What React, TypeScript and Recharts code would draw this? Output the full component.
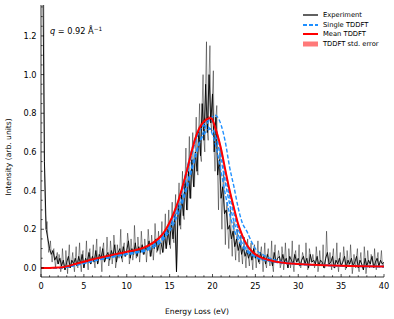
import React from 'react';
import { ComposedChart, Line, Area, XAxis, YAxis } from 'recharts';

// ---------- data ----------
const EXP_STEP = 0.2;
// Experiment, samples at 0.0, 0.2, ... 40.0 eV
const expEven = [
  1.6, 1.6, 0.55, 0.2, 0.15, 0.1, 0.07, 0.09, 0.04, 0.06,
  0.02, 0.05, 0.01, 0.04, -0.01, 0.03, 0.06, 0.0, 0.04, 0.02,
  0.05, 0.01, 0.06, 0.02, 0.07, 0.0, 0.05, 0.03, 0.08, 0.02,
  0.06, 0.03, 0.09, 0.02, 0.07, 0.05, 0.1, 0.03, 0.06, 0.08,
  0.04, 0.09, 0.06, 0.12, 0.03, 0.08, 0.1, 0.05, 0.11, 0.06,
  0.09, 0.14, 0.05, 0.1, 0.07, 0.13, 0.06, 0.11, 0.08, 0.12,
  0.07, 0.11, 0.09, 0.14, 0.06, 0.12, 0.1, 0.15, 0.09, 0.13,
  0.13, 0.08, 0.18, 0.1, 0.2, 0.12, 0.24, 0.15, 0.28, -0.02,
  0.33, 0.22, 0.38, 0.27, 0.45, 0.3, 0.5, 0.36, 0.56, 0.42,
  0.6, 0.5, 0.72, 0.58, 0.85, 0.66, 0.95, 0.7, 1.0, 0.75,
  0.9, 0.6, 0.78, 0.48, 0.56, 0.36, 0.42, 0.28, 0.3, 0.2,
  0.22, 0.15, 0.19, 0.11, 0.15, 0.09, 0.13, 0.07, 0.11, 0.06,
  0.09, 0.05, 0.08, 0.04, 0.1, 0.05, 0.07, 0.03, 0.08, 0.04,
  0.06, 0.02, 0.07, 0.04, 0.05, 0.01, 0.08, 0.03, 0.05, 0.06,
  0.02, 0.07, 0.03, 0.05, 0.0, 0.06, 0.04, 0.02, 0.07, 0.03,
  0.05, 0.01, 0.04, 0.06, 0.02, 0.05, 0.0, 0.07, 0.03, 0.04,
  0.02, 0.06, 0.01, 0.04, 0.03, 0.0, 0.05, 0.08, 0.02, 0.03,
  0.06, 0.0, 0.04, 0.02, 0.05, 0.01, 0.03, 0.06, 0.0, 0.04,
  0.02, 0.05, 0.01, 0.03, 0.06, 0.0, 0.04, 0.02, -0.01, 0.05,
  0.01, 0.04, 0.02, 0.06, 0.0, 0.03, 0.05, 0.01, 0.04, 0.02,
  0.03,
];
// Experiment, interleaved samples at 0.1, 0.3, ... 39.9 eV
const expOdd = [
  1.6, 1.6, 0.3, 0.24, 0.08, 0.14, 0.03, 0.1, 0.0, 0.08,
  0.07, -0.02, 0.1, 0.0, 0.09, -0.03, 0.12, 0.01, 0.08, -0.02,
  0.11, 0.0, 0.13, -0.02, 0.09, 0.02, 0.14, -0.01, 0.1, 0.04,
  0.12, 0.0, 0.15, 0.03, 0.11, -0.02, 0.13, 0.04, 0.16, 0.01,
  0.14, 0.02, 0.17, 0.0, 0.12, 0.05, 0.2, 0.03, 0.13, 0.06,
  0.18, 0.02, 0.15, 0.04, 0.22, 0.05, 0.16, 0.03, 0.19, 0.07,
  0.15, 0.03, 0.2, 0.06, 0.17, 0.04, 0.23, 0.08, 0.19, 0.07,
  0.24, 0.09, 0.28, 0.12, 0.3, 0.1, 0.34, 0.13, 0.38, 0.15,
  0.44, 0.2, 0.5, 0.25, 0.62, 0.3, 0.68, 0.36, 0.7, 0.42,
  0.78, 0.48, 0.85, 0.55, 1.0, 0.6, 1.17, 0.66, 1.15, 0.7,
  1.02, 0.5, 0.84, 0.3, 0.62, 0.2, 0.5, 0.12, 0.34, 0.1,
  0.3, 0.06, 0.24, 0.04, 0.2, 0.03, 0.17, 0.02, 0.16, 0.0,
  0.15, 0.01, 0.13, -0.01, 0.12, 0.0, 0.14, 0.02, 0.11, -0.02,
  0.13, 0.0, 0.1, 0.01, 0.14, -0.02, 0.12, 0.03, 0.09, 0.0,
  0.11, -0.01, 0.13, 0.02, 0.1, 0.0, 0.14, -0.02, 0.09, 0.03,
  0.12, 0.0, 0.08, 0.02, 0.13, -0.01, 0.1, 0.03, 0.07, 0.0,
  0.11, -0.02, 0.09, 0.01, 0.12, 0.0, 0.19, 0.02, 0.08, -0.01,
  0.1, 0.0, 0.13, -0.02, 0.08, 0.02, 0.11, -0.01, 0.09, 0.01,
  0.12, -0.03, 0.07, 0.0, 0.1, -0.02, 0.08, 0.01, 0.11, -0.03,
  0.09, 0.0, 0.07, 0.03, 0.1, -0.01, 0.08, 0.02, 0.09, 0.0,
];

// TDDFT energy grid (eV)
const theoryX = [0, 1, 2, 2.5, 3, 4, 5, 6, 7, 8, 9, 10, 11, 12, 13, 14, 14.5, 15, 15.5, 16, 16.5, 17, 17.5, 18, 18.5, 19, 19.5, 19.75, 20, 20.25, 20.5, 21, 21.5, 22, 22.5, 23, 23.5, 24, 24.5, 25, 26, 27, 28, 30, 33, 36, 40];
const meanTDDFT = [0, 0, 0.002, 0.004, 0.008, 0.02, 0.032, 0.044, 0.054, 0.064, 0.074, 0.083, 0.092, 0.105, 0.128, 0.165, 0.195, 0.235, 0.285, 0.345, 0.42, 0.5, 0.59, 0.67, 0.725, 0.757, 0.772, 0.775, 0.765, 0.735, 0.7, 0.615, 0.505, 0.4, 0.31, 0.225, 0.165, 0.12, 0.09, 0.07, 0.048, 0.036, 0.028, 0.02, 0.014, 0.01, 0.007];
const stdErr = [0, 0, 0.001, 0.002, 0.003, 0.004, 0.004, 0.005, 0.005, 0.005, 0.006, 0.006, 0.006, 0.006, 0.007, 0.008, 0.009, 0.01, 0.011, 0.012, 0.013, 0.014, 0.015, 0.015, 0.015, 0.014, 0.013, 0.013, 0.013, 0.014, 0.016, 0.018, 0.018, 0.017, 0.015, 0.013, 0.011, 0.009, 0.007, 0.006, 0.005, 0.004, 0.003, 0.003, 0.002, 0.002, 0.002];
const single1 = [0, 0, 0, 0.002, 0.005, 0.015, 0.026, 0.037, 0.047, 0.056, 0.065, 0.073, 0.081, 0.093, 0.115, 0.15, 0.18, 0.22, 0.27, 0.33, 0.4, 0.48, 0.57, 0.65, 0.71, 0.745, 0.765, 0.77, 0.76, 0.735, 0.7, 0.6, 0.48, 0.37, 0.28, 0.2, 0.15, 0.11, 0.085, 0.066, 0.046, 0.035, 0.028, 0.02, 0.014, 0.01, 0.007];
const single2 = [0, 0, 0, 0.001, 0.004, 0.013, 0.023, 0.034, 0.044, 0.053, 0.062, 0.07, 0.078, 0.088, 0.105, 0.135, 0.16, 0.19, 0.23, 0.28, 0.34, 0.41, 0.49, 0.57, 0.65, 0.71, 0.755, 0.77, 0.782, 0.79, 0.785, 0.74, 0.65, 0.52, 0.42, 0.31, 0.23, 0.19, 0.14, 0.1, 0.065, 0.045, 0.033, 0.022, 0.015, 0.011, 0.008];
const single3 = [0, 0, 0, 0.002, 0.005, 0.016, 0.027, 0.038, 0.048, 0.057, 0.066, 0.074, 0.082, 0.09, 0.115, 0.155, 0.185, 0.225, 0.28, 0.34, 0.42, 0.51, 0.6, 0.67, 0.715, 0.735, 0.73, 0.715, 0.69, 0.655, 0.61, 0.5, 0.38, 0.28, 0.2, 0.145, 0.11, 0.085, 0.068, 0.055, 0.04, 0.031, 0.025, 0.018, 0.013, 0.009, 0.006];
const single4 = [0, 0, 0, 0.001, 0.004, 0.014, 0.024, 0.035, 0.045, 0.054, 0.063, 0.07, 0.077, 0.085, 0.105, 0.14, 0.17, 0.205, 0.25, 0.3, 0.36, 0.43, 0.51, 0.59, 0.65, 0.69, 0.715, 0.72, 0.715, 0.695, 0.66, 0.56, 0.44, 0.33, 0.24, 0.17, 0.125, 0.095, 0.075, 0.06, 0.043, 0.033, 0.027, 0.019, 0.013, 0.009, 0.006];

// ticks
const xMajorTicks = [0, 5, 10, 15, 20, 25, 30, 35, 40];
const xAllTicks = [0, 1, 2, 3, 4, 5, 6, 7, 8, 9, 10, 11, 12, 13, 14, 15, 16, 17, 18, 19, 20, 21, 22, 23, 24, 25, 26, 27, 28, 29, 30, 31, 32, 33, 34, 35, 36, 37, 38, 39, 40];
const yMajorTicks = [0, 0.2, 0.4, 0.6, 0.8, 1.0, 1.2];
const yAllTicks = [0, 0.05, 0.1, 0.15, 0.2, 0.25, 0.3, 0.35, 0.4, 0.45, 0.5, 0.55, 0.6, 0.65, 0.7, 0.75, 0.8, 0.85, 0.9, 0.95, 1.0, 1.05, 1.1, 1.15, 1.2, 1.25, 1.3, 1.35];
const X_DOMAIN: [number, number] = [0, 40];
const Y_DOMAIN: [number, number] = [-0.047, 1.36];

const legendItems = ['Experiment', 'Single TDDFT', 'Mean TDDFT', 'TDDFT std. error'];

// ---------- styles ----------
const FONT = "'DejaVu Sans', sans-serif";
const RED = '#ff0000';
const BLUE = '#1e8fff';
const BAND = '#ff6a6a';
const MAJOR = 3;
const MINOR = 1.7;

const evenData = expEven.map((y, i) => ({ x: +(i * EXP_STEP).toFixed(2), y }));
const oddData = expOdd.map((y, i) => ({ x: +(0.1 + i * EXP_STEP).toFixed(2), y }));
const fullData = [...evenData, ...oddData].sort((a, b) => a.x - b.x);
const theoryData = theoryX.map((x, i) => ({
  x,
  mean: meanTDDFT[i],
  band: [meanTDDFT[i] - stdErr[i], meanTDDFT[i] + stdErr[i]],
  s1: single1[i],
  s2: single2[i],
  s3: single3[i],
  s4: single4[i],
}));

const isMajorX = (v: number) => xMajorTicks.includes(v);
const isMajorY = (v: number) => yMajorTicks.some((t) => Math.abs(t - v) < 1e-6);

const BottomTick = (p: any) => {
  const { x, y, payload } = p;
  const major = isMajorX(payload.value);
  return (
    <g>
      <line x1={x} x2={x} y1={y} y2={y - (major ? MAJOR : MINOR)} stroke="#000" strokeWidth={0.7} />
      {major && (
        <text x={x} y={y + 11.8} textAnchor="middle" fontSize={8.2} fontFamily={FONT} fill="#000">
          {payload.value}
        </text>
      )}
    </g>
  );
};
const TopTick = (p: any) => {
  const { x, y, payload } = p;
  const major = isMajorX(payload.value);
  return <line x1={x} x2={x} y1={y} y2={y + (major ? MAJOR : MINOR)} stroke="#000" strokeWidth={0.7} />;
};
const LeftTick = (p: any) => {
  const { x, y, payload } = p;
  const major = isMajorY(payload.value);
  return (
    <g>
      <line x1={x} x2={x + (major ? MAJOR : MINOR)} y1={y} y2={y} stroke="#000" strokeWidth={0.7} />
      {major && (
        <text x={x - 4.5} y={y + 3} textAnchor="end" fontSize={8.2} fontFamily={FONT} fill="#000">
          {Number(payload.value).toFixed(1)}
        </text>
      )}
    </g>
  );
};
const RightTick = (p: any) => {
  const { x, y, payload } = p;
  const major = isMajorY(payload.value);
  return <line x1={x} x2={x - (major ? MAJOR : MINOR)} y1={y} y2={y} stroke="#000" strokeWidth={0.7} />;
};

const LegendSample = ({ i }: { i: number }) => {
  if (i === 0) return <svg width={15} height={6}><line x1={0} x2={15} y1={3} y2={3} stroke="#000" strokeOpacity={0.62} strokeWidth={2} /></svg>;
  if (i === 1) return <svg width={15} height={6}><line x1={0} x2={15} y1={3} y2={3} stroke={BLUE} strokeWidth={2} strokeDasharray="4 2" /></svg>;
  if (i === 2) return <svg width={15} height={6}><line x1={0} x2={15} y1={3} y2={3} stroke={RED} strokeWidth={2} /></svg>;
  return <svg width={15} height={6}><rect x={0} y={0.5} width={15} height={5} fill={BAND} fillOpacity={0.9} /></svg>;
};

export default function App() {
  return (
    <div style={{ position: 'absolute', left: 0, top: 0, width: 394, height: 319, fontFamily: FONT, background: '#fff' }}>
      <ComposedChart width={394} height={319} data={theoryData} margin={{ top: 5, right: 10, bottom: 0, left: 0 }}>
        <XAxis
          type="number"
          dataKey="x"
          domain={X_DOMAIN}
          ticks={xAllTicks}
          interval={0}
          allowDataOverflow
          height={42}
          tickSize={0}
          tickMargin={0}
          tickLine={false}
          axisLine={{ stroke: '#000', strokeWidth: 0.8 }}
          tick={<BottomTick />}
        />
        <XAxis
          xAxisId="top"
          orientation="top"
          type="number"
          dataKey="x"
          domain={X_DOMAIN}
          ticks={xAllTicks}
          interval={0}
          allowDataOverflow
          height={0}
          tickSize={0}
          tickMargin={0}
          tickLine={false}
          axisLine={{ stroke: '#000', strokeWidth: 0.8 }}
          tick={<TopTick />}
        />
        <YAxis
          type="number"
          domain={Y_DOMAIN}
          ticks={yAllTicks}
          interval={0}
          allowDataOverflow
          width={41}
          tickSize={0}
          tickMargin={0}
          tickLine={false}
          axisLine={{ stroke: '#000', strokeWidth: 0.8 }}
          tick={<LeftTick />}
        />
        <YAxis
          yAxisId="right"
          orientation="right"
          type="number"
          domain={Y_DOMAIN}
          ticks={yAllTicks}
          interval={0}
          allowDataOverflow
          width={0}
          tickSize={0}
          tickMargin={0}
          tickLine={false}
          axisLine={{ stroke: '#000', strokeWidth: 0.8 }}
          tick={<RightTick />}
        />
        <Line data={fullData} dataKey="y" type="linear" stroke="#000" strokeOpacity={0.5} strokeWidth={0.85} dot={false} activeDot={false} isAnimationActive={false} />
        <Line data={evenData} dataKey="y" type="linear" stroke="#000" strokeOpacity={0.95} strokeWidth={0.95} dot={false} activeDot={false} isAnimationActive={false} />
        <Line dataKey="s1" type="monotone" stroke={BLUE} strokeWidth={1.4} strokeDasharray="4 2" dot={false} activeDot={false} isAnimationActive={false} />
        <Line dataKey="s2" type="monotone" stroke={BLUE} strokeWidth={1.4} strokeDasharray="4 2" dot={false} activeDot={false} isAnimationActive={false} />
        <Line dataKey="s3" type="monotone" stroke={BLUE} strokeWidth={1.4} strokeDasharray="4 2" dot={false} activeDot={false} isAnimationActive={false} />
        <Line dataKey="s4" type="monotone" stroke={BLUE} strokeWidth={1.4} strokeDasharray="4 2" dot={false} activeDot={false} isAnimationActive={false} />
        <Area dataKey="band" type="monotone" stroke="none" fill={BAND} fillOpacity={0.6} isAnimationActive={false} activeDot={false} />
        <Line dataKey="mean" type="monotone" stroke={RED} strokeWidth={2} dot={false} activeDot={false} isAnimationActive={false} />
      </ComposedChart>

      {/* annotation */}
      <div style={{ position: 'absolute', left: 50, top: 26, fontSize: 8.2, lineHeight: '10px', whiteSpace: 'nowrap', color: '#000' }}>
        <span style={{ fontStyle: 'italic' }}>q</span> = 0.92 Å<sup style={{ fontSize: 5.8, verticalAlign: 'top', position: 'relative', top: -2 }}>−1</sup>
      </div>

      {/* legend */}
      <div style={{ position: 'absolute', left: 303, top: 10, fontSize: 6.75, color: '#000' }}>
        {legendItems.map((t, i) => (
          <div key={t} style={{ display: 'flex', alignItems: 'center', height: 9.75, whiteSpace: 'nowrap' }}>
            <LegendSample i={i} />
            <span style={{ marginLeft: 5 }}>{t}</span>
          </div>
        ))}
      </div>

      {/* axis titles */}
      <div style={{ position: 'absolute', left: 197, top: 311, transform: 'translate(-50%, -50%)', fontSize: 7.6, whiteSpace: 'nowrap', color: '#000' }}>
        Energy Loss (eV)
      </div>
      <div style={{ position: 'absolute', left: 7.5, top: 157, transform: 'translate(-50%, -50%) rotate(-90deg)', fontSize: 7.6, whiteSpace: 'nowrap', color: '#000' }}>
        Intensity (arb. units)
      </div>
    </div>
  );
}
